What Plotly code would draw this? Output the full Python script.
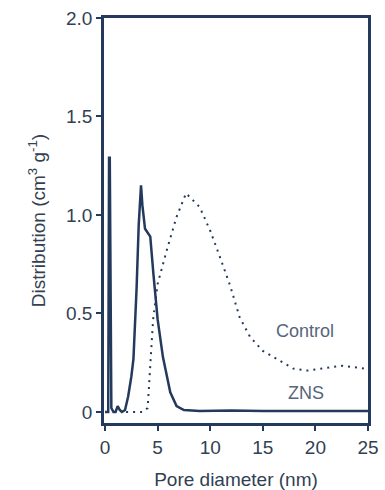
import plotly.graph_objects as go

# ZNS (solid)
zns_x = [0.0, 0.3, 0.38, 0.45, 0.6, 0.8, 1.0, 1.2, 1.4, 1.6, 1.9, 2.2, 2.5, 2.7, 3.0, 3.2, 3.42, 3.55, 3.8, 4.3, 4.6, 5.0, 5.5, 6.2, 6.8, 7.5, 9.0, 12.0, 15.0, 20.0, 25.0]
zns_y = [0.0, 0.0, 1.29, 1.29, 0.02, 0.0, 0.0, 0.03, 0.01, 0.0, 0.01, 0.08, 0.18, 0.27, 0.63, 0.95, 1.15, 1.05, 0.93, 0.89, 0.70, 0.47, 0.28, 0.10, 0.03, 0.01, 0.005, 0.008, 0.005, 0.006, 0.005]

# Control (dotted)
ctrl_x = [2.0, 2.7, 3.6, 4.05, 4.28, 4.57, 5.0, 5.86, 6.8, 7.7, 9.0, 10.0, 10.9, 11.9, 12.8, 13.8, 15.0, 16.6, 17.9, 19.2, 20.7, 22.6, 24.7, 25.0]
ctrl_y = [0.0, 0.0, 0.0, 0.02, 0.23, 0.47, 0.65, 0.82, 0.99, 1.11, 1.04, 0.92, 0.79, 0.64, 0.48, 0.38, 0.31, 0.26, 0.22, 0.21, 0.22, 0.235, 0.22, 0.215]

x_ticks = [0, 5, 10, 15, 20, 25]
y_ticks = [0, 0.5, 1.0, 1.5, 2.0]
y_tick_text = ["0", "0.5", "1.0", "1.5", "2.0"]

line_col = "#243a5c"
text_col = "#333f52"
font_fam = "Liberation Sans, Arial"

fig = go.Figure()
fig.add_trace(go.Scatter(x=ctrl_x, y=ctrl_y, mode="lines",
                         line=dict(color=line_col, width=2, dash="2px,5px"),
                         showlegend=False))
fig.add_trace(go.Scatter(x=zns_x, y=zns_y, mode="lines",
                         line=dict(color=line_col, width=2.5),
                         showlegend=False))

fig.add_annotation(x=19.0, y=0.41, text="Control", showarrow=False,
                   font=dict(size=18, color="#56657a", family=font_fam))
fig.add_annotation(x=19.1, y=0.095, text="ZNS", showarrow=False,
                   font=dict(size=18, color="#56657a", family=font_fam))

axis_common = dict(showgrid=False, zeroline=False, showline=True, linecolor=line_col,
                   linewidth=2.5, mirror=True, ticks="outside", ticklen=5,
                   tickwidth=2, tickcolor=line_col, automargin=False,
                   tickfont=dict(size=19, color=text_col, family=font_fam))

fig.update_layout(
    width=385, height=490,
    margin=dict(l=104, r=17, t=18, b=67),
    paper_bgcolor="white", plot_bgcolor="white",
    xaxis=dict(range=[-0.1, 25], tickvals=x_ticks,
               title=dict(text="Pore diameter (nm)", standoff=18,
                          font=dict(size=19, color=text_col, family=font_fam)),
               **axis_common),
    yaxis=dict(range=[-0.056, 2.0], tickvals=y_ticks, ticktext=y_tick_text,
               title=dict(text="Distribution (cm<sup>3</sup> g<sup>-1</sup>)", standoff=16,
                          font=dict(size=19, color=text_col, family=font_fam)),
               **axis_common),
)

fig.write_html("out.html", config={"displayModeBar": False},
               post_script="document.body.style.margin='0';document.body.style.overflow='hidden';")
